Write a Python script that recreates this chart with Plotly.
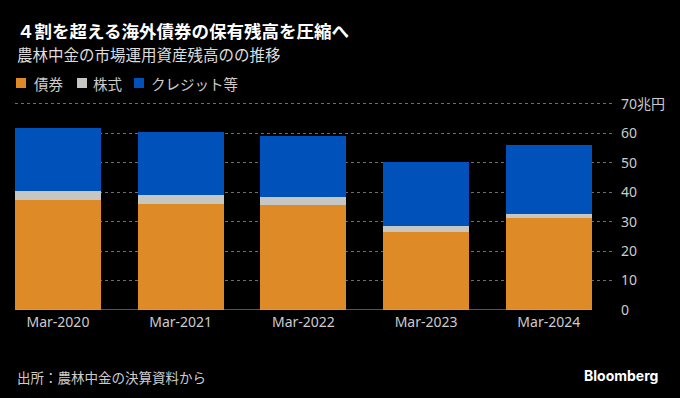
import plotly.graph_objects as go

categories = ["Mar-2020", "Mar-2021", "Mar-2022", "Mar-2023", "Mar-2024"]
bonds = [37.3, 36.0, 35.5, 26.5, 31.2]
stocks = [3.1, 2.9, 2.8, 2.0, 1.3]
credit = [21.5, 21.5, 20.9, 21.7, 23.6]
series_names = ["債券", "株式", "クレジット等"]
tick_vals = [0, 10, 20, 30, 40, 50, 60, 70]
tick_text = ["0", "10", "20", "30", "40", "50", "60", "70兆円"]

C_BOND = "#DE8B27"
C_STOCK = "#C6C6C2"
C_CREDIT = "#0052BA"
COLORS = [C_BOND, C_STOCK, C_CREDIT]
FONT = "Noto Sans CJK JP"
LATIN = "Noto Sans, Noto Sans CJK JP"

fig = go.Figure()
for name, vals, col in zip(series_names, [bonds, stocks, credit], COLORS):
    fig.add_trace(go.Bar(x=list(range(len(categories))), y=vals, name=name,
                         marker=dict(color=col, line=dict(width=0)), width=0.7))

T, B, L, R = 98, 88, 15, 68
W, H = 680, 398
fig.update_layout(
    width=W, height=H,
    barmode="stack",
    paper_bgcolor="black", plot_bgcolor="black",
    margin=dict(l=L, r=R, t=T, b=B),
    showlegend=False,
    font=dict(family=FONT, color="#cccccc"),
    xaxis=dict(range=[-0.35, 4.515], tickvals=list(range(len(categories))), ticktext=categories,
               showgrid=False, zeroline=False, showline=False, ticks="", ticklabelstandoff=2,
               tickfont=dict(size=14, color="#cccccc", family=LATIN)),
    yaxis=dict(range=[0, 72], side="right", tickvals=tick_vals, ticktext=tick_text,
               showgrid=True, gridcolor="#6e6e6e", griddash="dot", gridwidth=1,
               zeroline=False, showline=False, ticks="", ticklabelstandoff=8,
               tickfont=dict(size=14, color="#cccccc", family=LATIN)),
)

plot_h = H - T - B
plot_w = W - L - R
def py(ypix):
    return (H - B - ypix) / plot_h
def px(xpix):
    return (xpix - L) / plot_w

fig.add_shape(type="line", xref="x", yref="y", x0=-0.35, x1=4.35, y0=0, y1=0,
              line=dict(color="#aaaaaa", width=1.2))

def text(t, xp, yp, size, color, family=FONT, anchor="left"):
    fig.add_annotation(text=t, xref="paper", yref="paper", x=px(xp), y=py(yp),
                       xanchor=anchor, yanchor="middle", showarrow=False,
                       font=dict(size=size, color=color, family=family))

text("<b>４割を超える海外債券の保有残高を圧縮へ</b>", 15, 31, 17.5, "white")
text("農林中金の市場運用資産残高のの推移", 15, 54, 15.5, "#dddddd")

# legend
sq_x = [16, 77, 134]
txt_x = [32, 91, 149]
for name, col, sx, tx in zip(series_names, COLORS, sq_x, txt_x):
    fig.add_shape(type="rect", xref="paper", yref="paper",
                  x0=px(sx), x1=px(sx + 10), y0=py(88), y1=py(78),
                  fillcolor=col, line=dict(width=0))
    text(name, tx, 83, 14.5, "#cccccc")

text("出所：農林中金の決算資料から", 15, 377, 13.5, "#cccccc")
text("<b>Bloomberg</b>", 660, 375, 14, "white", family="Inter", anchor="right")

fig.write_html("out.html", config={"displayModeBar": False},
               post_script="document.body.style.margin='0';document.body.style.background='black';")
